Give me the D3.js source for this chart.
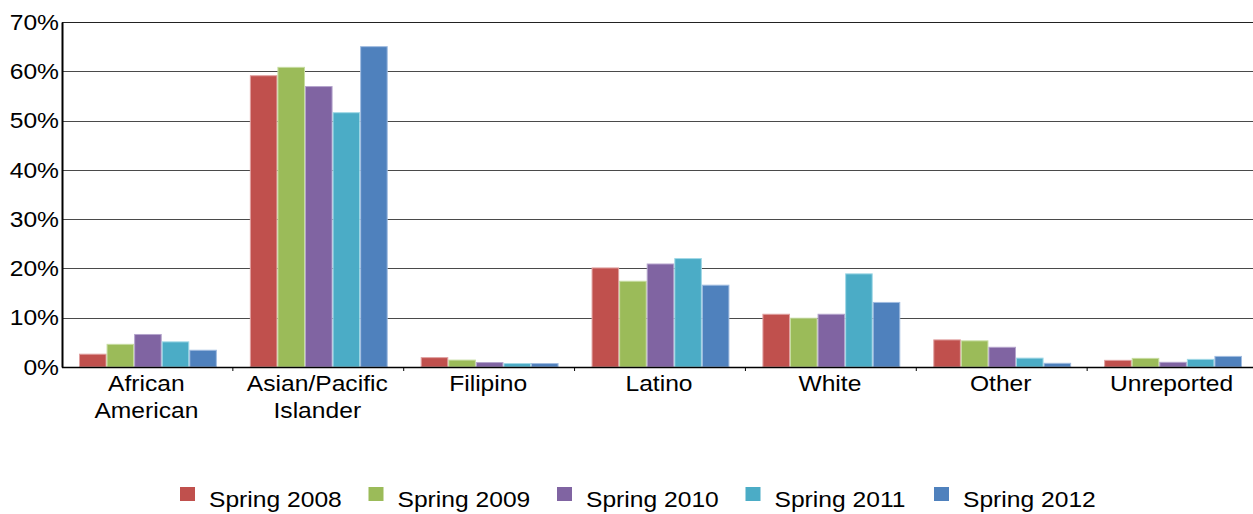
<!DOCTYPE html>
<html><head><meta charset="utf-8">
<script src="https://cdn.jsdelivr.net/npm/d3@7"></script>
<style>body{margin:0;background:#fff}svg{display:block}</style>
</head><body>
<script>
const categories = [["African","American"],["Asian/Pacific","Islander"],["Filipino"],["Latino"],["White"],["Other"],["Unreported"]];
const seriesNames = ["Spring 2008","Spring 2009","Spring 2010","Spring 2011","Spring 2012"];
const colors = ["#C0504D","#9BBB59","#8064A2","#4BACC6","#4F81BD"];
const strokes = ["#E0A0A0","#C6DCA0","#B4A4CC","#A0D8E6","#A0BCE0"];
const spring2008 = [2.6, 59.1, 1.9, 20.1, 10.7, 5.5, 1.35];
const spring2009 = [4.6, 60.8, 1.4, 17.4, 9.9, 5.3, 1.75];
const spring2010 = [6.6, 56.9, 0.9, 20.9, 10.7, 4.0, 0.95];
const spring2011 = [5.1, 51.6, 0.7, 22.0, 18.9, 1.8, 1.55];
const spring2012 = [3.4, 65.0, 0.7, 16.6, 13.1, 0.75, 2.15];
const series = [spring2008, spring2009, spring2010, spring2011, spring2012];
const yTicks = [0,10,20,30,40,50,60,70];

(function(){
const W = 1253, H = 514;
const SX = 1.12, FS = 22;
const svg = d3.select("body").append("svg").attr("width", W).attr("height", H)
  .style("font-family", "'Liberation Sans', Arial, sans-serif");

const pL = 62, pR = 1258, pT = 22, pB = 367;
const x0 = d3.scaleBand().domain(d3.range(categories.length)).range([pL, pR]).paddingInner(0).paddingOuter(0);
const x1 = d3.scaleBand().domain(d3.range(series.length)).range([17, x0.bandwidth() - 16]).padding(0);
const y = d3.scaleLinear().domain([0, 70]).range([pB, pT]);

// gridlines
svg.append("g").selectAll("line").data(yTicks.filter(d => d > 0)).join("line")
  .attr("x1", pL).attr("x2", W).attr("y1", d => Math.round(y(d)) + 0.5).attr("y2", d => Math.round(y(d)) + 0.5)
  .attr("stroke", d => d === 70 ? "#222" : "#4a4a4a").attr("stroke-width", 1.2);

// bars
const g = svg.append("g");
categories.forEach((c, ci) => {
  series.forEach((s, si) => {
    g.append("rect")
      .attr("x", x0(ci) + x1(si) + 0.5)
      .attr("y", y(s[ci]))
      .attr("width", x1.bandwidth() - 1)
      .attr("height", pB - y(s[ci]))
      .attr("fill", colors[si])
      .attr("stroke", strokes[si]).attr("stroke-width", 1);
  });
});

// y axis
const yAxis = d3.axisLeft(y).tickValues(yTicks).tickFormat(d => d + "%").tickSize(0).tickPadding(2);
const ya = svg.append("g").attr("transform", `translate(${pL},0)`).call(yAxis);
ya.select(".domain").attr("stroke", "#000").attr("stroke-width", 2);
ya.selectAll("text").attr("x", 0).attr("dy", "0.33em")
  .attr("transform", `translate(-3,0) scale(${SX},1)`)
  .attr("font-size", FS).attr("fill", "#000").attr("font-family", "'Liberation Sans', Arial, sans-serif");

// x axis baseline
svg.append("line").attr("x1", pL).attr("x2", W).attr("y1", pB + 0.5).attr("y2", pB + 0.5)
  .attr("stroke", "#000").attr("stroke-width", 1.5);
// category boundary ticks
svg.append("g").selectAll("line").data(d3.range(1, categories.length)).join("line")
  .attr("x1", d => x0(d)).attr("x2", d => x0(d)).attr("y1", pB).attr("y2", pB + 4)
  .attr("stroke", "#000").attr("stroke-width", 1);

// category labels
const lblG = svg.append("g").selectAll("g").data(categories).join("g")
  .attr("transform", (d, i) => `translate(${x0(i) + x0.bandwidth() / 2 - 1},0) scale(${SX},1)`);
lblG.selectAll("text").data(d => d).join("text")
  .attr("text-anchor", "middle").attr("font-size", FS).attr("fill", "#000")
  .attr("x", 0).attr("y", (d, i) => 391 + i * 27).text(d => d);

// legend
const legX = [180, 368.5, 557, 745.5, 934];
const leg = svg.append("g").selectAll("g").data(seriesNames).join("g")
  .attr("transform", (d, i) => `translate(${legX[i]},0)`);
leg.append("rect").attr("x", 0).attr("y", 487).attr("width", 15).attr("height", 14)
  .attr("fill", (d, i) => colors[i]);
leg.append("text").attr("transform", `translate(29,507) scale(${SX},1)`)
  .attr("font-size", FS).attr("fill", "#000").text(d => d);
})();
</script>
</body></html>
